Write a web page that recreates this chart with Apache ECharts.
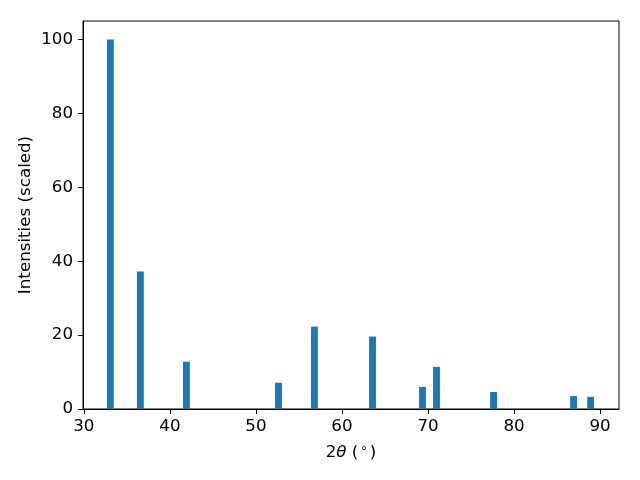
<!DOCTYPE html>
<html>
<head>
<meta charset="utf-8">
<script src="https://cdn.jsdelivr.net/npm/echarts@6/dist/echarts.min.js"></script>
<style>html,body{margin:0;padding:0;background:#fff}#c{width:640px;height:480px}</style>
</head>
<body>
<div id="c"></div>
<script>
const positions = [33.08, 36.57, 41.92, 52.62, 56.80, 63.55, 69.36, 70.99, 77.62, 86.92, 88.90];
const intensities = [100, 37.2, 12.8, 7.1, 22.3, 19.6, 6.0, 11.4, 4.6, 3.5, 3.3];
const xTicks = [30, 40, 50, 60, 70, 80, 90];
const yTicks = [0, 20, 40, 60, 80, 100];
const barWidthUnits = 0.8;

const xMin = 29.9, xMax = 92.2, yMin = 0, yMax = 105;
const gridL = 83, gridR = 21, gridT = 21, gridB = 71;
const plotW = 640 - gridL - gridR;
const font = 'DejaVu Sans';
const fs = 16.7;

const chart = echarts.init(document.getElementById('c'), null, {renderer: 'canvas'});
chart.setOption({
  animation: false,
  backgroundColor: '#fff',
  grid: {left: gridL, right: gridR, top: gridT, bottom: gridB, show: true, borderColor: '#000', borderWidth: 1, backgroundColor: 'transparent'},
  xAxis: {
    type: 'value', min: xMin, max: xMax,
    splitLine: {show: false},
    axisLine: {show: true, onZero: false, lineStyle: {color: '#000', width: 1}},
    axisTick: {show: true, length: 5, lineStyle: {color: '#000', width: 1}, customValues: xTicks},
    axisLabel: {customValues: xTicks, color: '#000', fontFamily: font, fontSize: fs, margin: 9},
    name: '{a|2}{i|θ}{a| (}{s|∘}{a|)}',
    nameLocation: 'middle', nameGap: 34, nameMoveOverlap: false,
    nameTextStyle: {
      rich: {
        a: {fontFamily: font, fontSize: fs, color: '#000'},
        i: {fontFamily: font, fontSize: fs, fontStyle: 'italic', color: '#000'},
        s: {fontFamily: font, fontSize: 12, color: '#000', verticalAlign: 'top', padding: [0, 2, 7, 2]}
      }
    }
  },
  yAxis: {
    type: 'value', min: yMin, max: yMax,
    splitLine: {show: false},
    axisLine: {show: true, lineStyle: {color: '#000', width: 1}},
    axisTick: {show: true, length: 5, lineStyle: {color: '#000', width: 1}, customValues: yTicks},
    axisLabel: {customValues: yTicks, color: '#000', fontFamily: font, fontSize: fs, margin: 10, padding: [3, 0, 0, 0]},
    name: 'Intensities (scaled)',
    nameLocation: 'middle', nameGap: 49, nameMoveOverlap: false,
    nameTextStyle: {fontFamily: font, fontSize: fs, color: '#000'}
  },
  series: [{
    type: 'bar',
    data: positions.map((p, i) => [p, intensities[i]]),
    barWidth: barWidthUnits * plotW / (xMax - xMin),
    itemStyle: {color: '#1f77b4'},
    silent: true
  }]
});
</script>
</body>
</html>
